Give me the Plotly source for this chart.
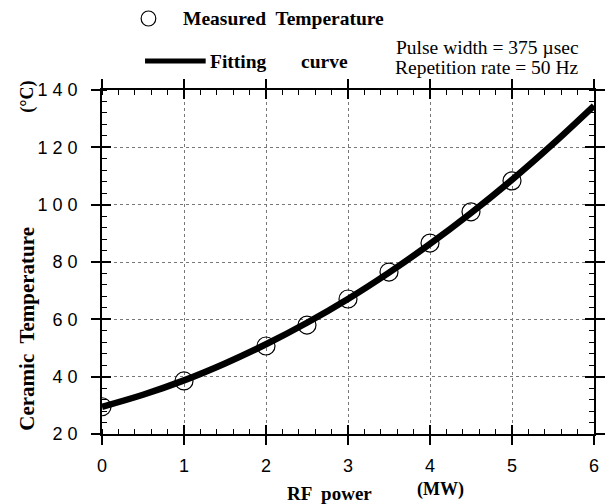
import plotly.graph_objects as go

# Measured data
power_mw = [0, 1, 2, 2.5, 3, 3.5, 4, 4.5, 5]
temp_c = [29.5, 38.5, 50.7, 58.0, 67.1, 76.5, 86.6, 97.5, 108.3]

# Fitting curve
fit_x = [0, 0.5, 1, 1.5, 2, 2.5, 3, 3.5, 4, 4.5, 5, 5.5, 6]
fit_y = [29.5, 33.7, 38.7, 44.6, 51.3, 58.8, 67.1, 76.3, 86.3, 97.1, 108.7, 121.2, 134.5]

x_ticks = [0, 1, 2, 3, 4, 5, 6]
y_ticks = [20, 40, 60, 80, 100, 120, 140]
y_ticktext = ["2 0", "4 0", "6 0", "8 0", "1 0 0", "1 2 0", "1 4 0"]

serif = "Liberation Serif, Times New Roman, serif"
sans = "Liberation Sans, Arial, sans-serif"

W, H = 610, 504
L, R, T, B = 102, 5, 90, 70

fig = go.Figure()
fig.add_trace(go.Scatter(x=fit_x, y=fit_y, mode="lines",
                         line=dict(color="black", width=6.5, shape="spline"),
                         showlegend=False))
fig.add_trace(go.Scatter(x=power_mw, y=temp_c, mode="markers",
                         marker=dict(symbol="circle-open", size=18,
                                     color="black", line=dict(width=1.2)),
                         showlegend=False))
fig.add_trace(go.Scatter(x=[0], y=[20], xaxis="x2", yaxis="y2",
                         mode="markers", marker=dict(opacity=0),
                         showlegend=False, hoverinfo="skip"))

common = dict(showline=True, linecolor="black", linewidth=1.5, mirror="ticks",
              ticks="outside", ticklen=9, tickwidth=1.5, tickcolor="black",
              showgrid=True, gridcolor="#777", griddash="dot", gridwidth=1,
              zeroline=False, tickfont=dict(family=sans, size=18, color="black"))

fig.update_layout(
    width=W, height=H,
    margin=dict(l=L, r=R, t=T, b=B),
    paper_bgcolor="white", plot_bgcolor="white",
    xaxis=dict(range=[0, 6], tickvals=x_ticks, ticklabelstandoff=6,
               minor=dict(dtick=0.2, ticks="inside", ticklen=5,
                          tickcolor="black", tickwidth=1, showgrid=False),
               **common),
    yaxis=dict(range=[20, 140], tickvals=y_ticks, ticktext=y_ticktext,
               ticklabelstandoff=10,
               minor=dict(dtick=4, ticks="inside", ticklen=5,
                          tickcolor="black", tickwidth=1, showgrid=False),
               **common),
    xaxis2=dict(overlaying="x", range=[0, 6], tickvals=x_ticks, ticks="inside",
                ticklen=9, tickwidth=1.5, tickcolor="black", mirror="ticks",
                showticklabels=False, showgrid=False, zeroline=False,
                showline=False, anchor="y2"),
    yaxis2=dict(overlaying="y", range=[20, 140], tickvals=y_ticks, ticks="inside",
                ticklen=9, tickwidth=1.5, tickcolor="black", mirror="ticks",
                showticklabels=False, showgrid=False, zeroline=False,
                showline=False, anchor="x2"),
)

PW = W - L - R
PH = H - T - B


def px(x):
    return (x - L) / PW


def py(y):
    return (H - B - y) / PH


def note(x, y, text, xanchor="left", size=18, angle=0):
    return dict(xref="paper", yref="paper", x=px(x), y=py(y), text=text,
                xanchor=xanchor, yanchor="middle", showarrow=False,
                textangle=angle,
                font=dict(family=serif, size=size, color="black"))


annotations = [
    note(183, 18, "<b>Measured  Temperature</b>", "left", 19.5),
    note(210, 61, "<b>Fitting</b>", "left", 19.5),
    note(356, 61, "<b>curve</b>", "right", 19.5),
    note(592, 47, "Pulse width = 375 µsec", "right", 19.5),
    note(592, 67, "Repetition rate = 50 Hz", "right", 19.5),
    note(335, 493, "<b>RF  power</b>", "center", 19),
    note(448, 489, "<b>(MW)</b>", "center", 18),
    note(25, 329, "<b>Ceramic  Temperature</b>", "center", 21, -90),
    note(25, 97, "<b>(°C)</b>", "center", 18, -90),
]
fig.update_layout(annotations=annotations)

fig.add_shape(type="circle", xref="paper", yref="paper",
              x0=px(142), x1=px(157), y0=py(26), y1=py(11),
              line=dict(color="black", width=1.2))
fig.add_shape(type="line", xref="paper", yref="paper",
              x0=px(146), x1=px(208), y0=py(61), y1=py(61),
              line=dict(color="black", width=5))

fig.write_html("out.html")
